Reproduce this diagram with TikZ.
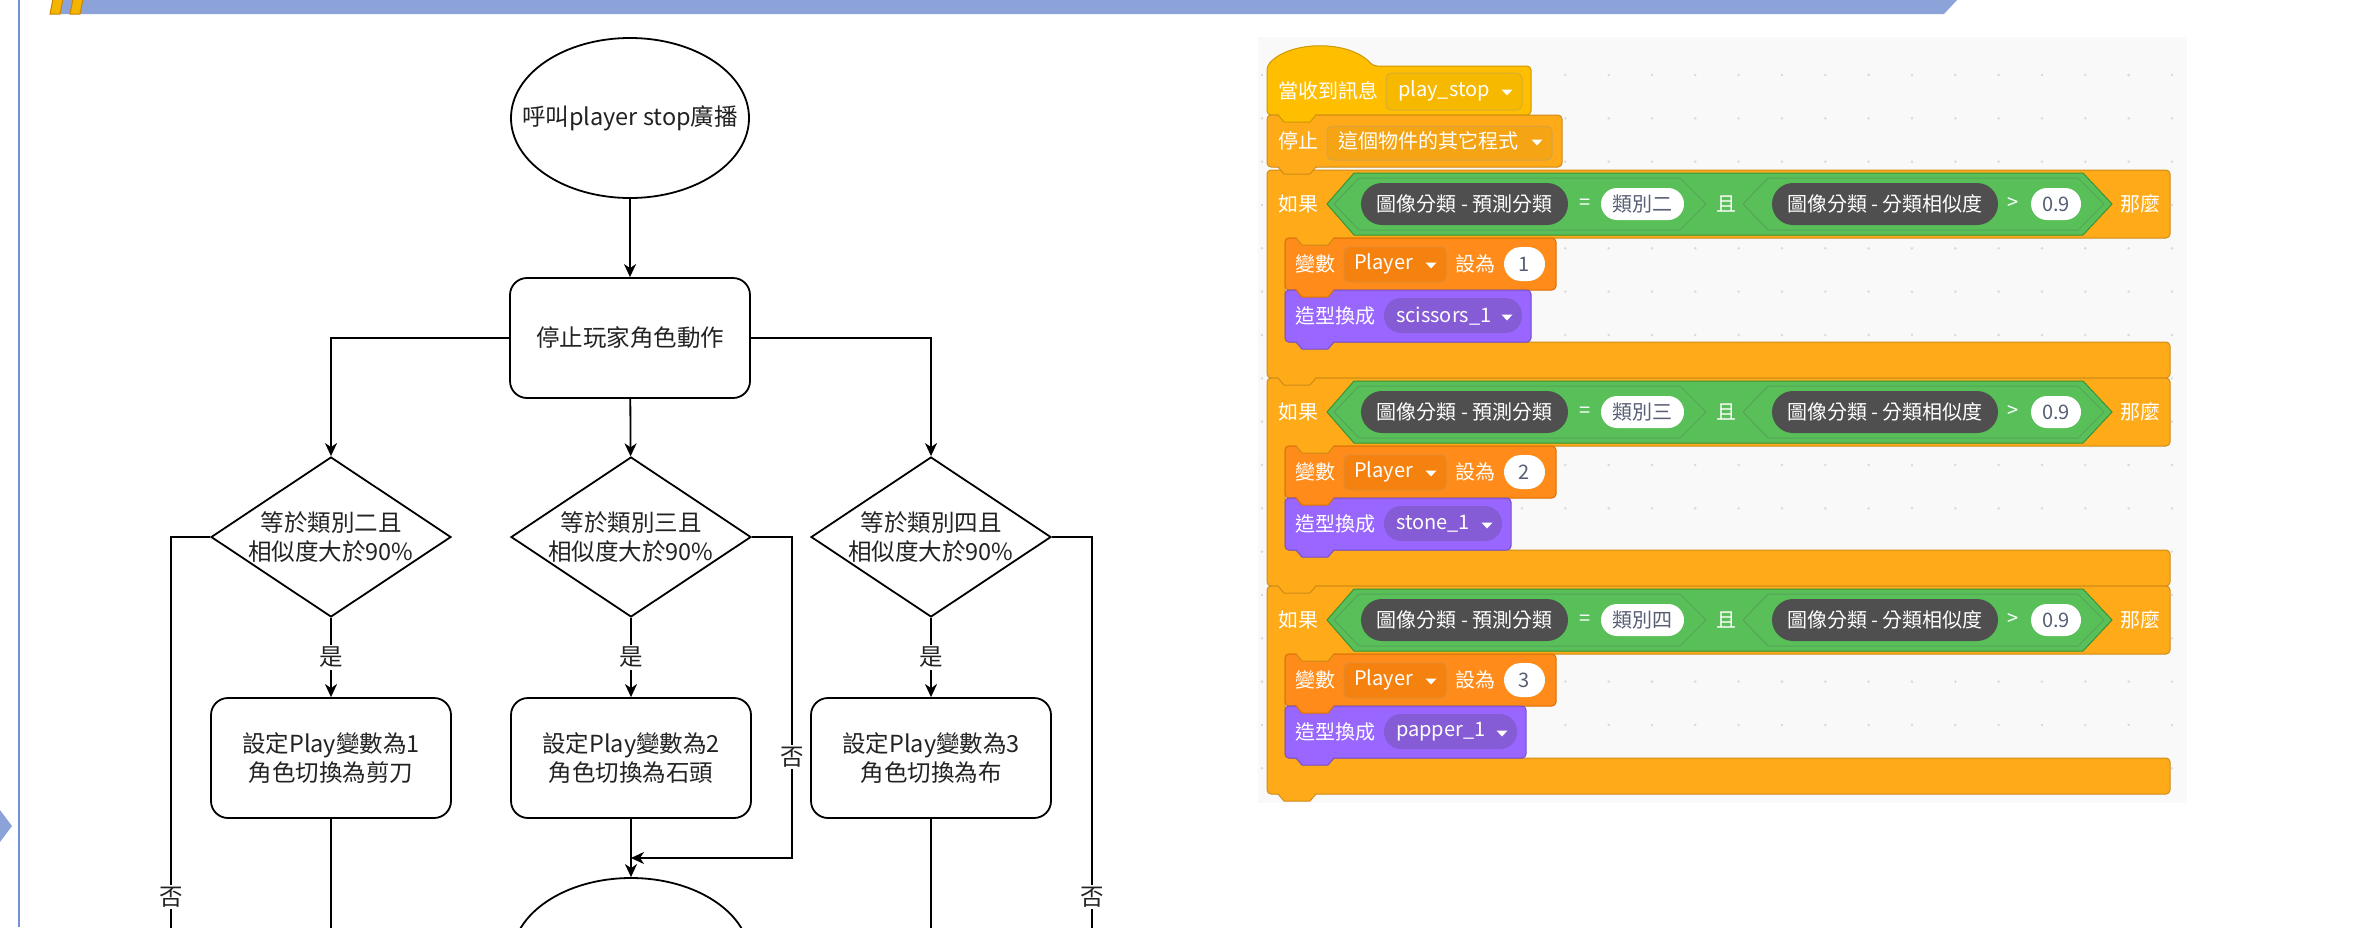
\documentclass[tikz,border=0pt]{standalone}
\usepackage{fontspec}
\setmainfont{Noto Sans CJK TC}
\usetikzlibrary{shapes.geometric,arrows.meta}
\definecolor{bannerc}{HTML}{8CA3D9}
\definecolor{quotec}{HTML}{F5B400}
\definecolor{quoteb}{HTML}{C98500}
\definecolor{edgec}{HTML}{7391D2}
\definecolor{fgtext}{HTML}{222222}
\definecolor{sbg}{HTML}{F9F9F9}
\definecolor{dotc}{HTML}{DADADA}
\definecolor{evt}{HTML}{FFBF00}
\definecolor{evtb}{HTML}{CC9900}
\definecolor{evtf}{HTML}{F7B800}
\definecolor{ctl}{HTML}{FFAB19}
\definecolor{ctlb}{HTML}{CF8B17}
\definecolor{ctlf}{HTML}{F5A413}
\definecolor{var}{HTML}{FF8C1A}
\definecolor{varb}{HTML}{DB6E00}
\definecolor{varf}{HTML}{F5820F}
\definecolor{lks}{HTML}{9966FF}
\definecolor{lksb}{HTML}{774DCB}
\definecolor{lksf}{HTML}{855CD6}
\definecolor{opc}{HTML}{59C059}
\definecolor{opb}{HTML}{389438}
\definecolor{extc}{HTML}{4F4F4F}
\definecolor{pilltext}{HTML}{575E75}
\newcommand\sbump[4]{%
  \path[fill=#3] (#1+11,#2-1.5) -- (#1+17,#2+7) -- (#1+43,#2+7) -- (#1+49,#2-1.5) -- cycle;
  \draw[#4, line width=1pt] (#1+11,#2) -- (#1+17,#2+7) -- (#1+43,#2+7) -- (#1+49,#2);}
\newcommand\droptri[2]{\fill[white] (#1-5.5,#2-2.5) -- (#1+5.5,#2-2.5) -- (#1,#2+3.5) -- cycle;}
\begin{document}
\begin{tikzpicture}[x=1pt,y=-1pt,
  fl/.style={line width=1.8pt, draw=black},
  arr/.style={fl, -{Stealth[length=13pt,width=12pt,inset=4pt]}},
  ftxt/.style={font=\fontsize{23.5}{29}\selectfont, text=fgtext, align=center, inner sep=0pt},
  term/.style={ellipse, draw, line width=1.8pt, minimum width=238pt, minimum height=160pt, inner sep=0pt},
  proc/.style={rectangle, rounded corners=17pt, draw, line width=1.8pt, minimum width=240pt, minimum height=120pt, ftxt},
  dec/.style={diamond, draw, line width=1.8pt, minimum width=240pt, minimum height=160pt, inner sep=0pt},
  lbl/.style={fill=white, font=\fontsize{23.5}{28}\selectfont, inner sep=2pt, text=fgtext},
  stxt/.style={font=\fontsize{20}{23}\selectfont, text=white, inner sep=0pt, anchor=west},
  ctxt/.style={font=\fontsize{20}{23}\selectfont, text=white, inner sep=0pt},
  ptxt/.style={font=\fontsize{20}{23}\selectfont, text=pilltext, inner sep=0pt},
  sblk/.style={line width=1pt, rounded corners=4pt}
]
\useasboundingbox (0,0) rectangle (2372,927);
\fill[white] (0,0) rectangle (2372,927);

% page decorations
\fill[bannerc] (60,0) -- (1957,0) -- (1944,14) -- (60,14) -- cycle;
\filldraw[fill=quotec, draw=quoteb, line width=1pt] (50,14) -- (53,-1) -- (63,-1) -- (60,14) -- cycle;
\filldraw[fill=quotec, draw=quoteb, line width=1pt] (70,14) -- (73,-1) -- (83,-1) -- (80,14) -- cycle;
\draw[edgec, line width=2pt] (19,0) -- (19,927);
\fill[bannerc] (0,810) -- (12,826) -- (0,842) -- cycle;

% ---------------- flowchart ----------------
\node[term] (start) at (630,118) {};
\node[ftxt] (startT) at (start.center) {呼叫player stop廣播};
\node[proc] (stop) at (630,338) {停止玩家角色動作};
\node[dec] (d1) at (331,537) {};
\node[ftxt] (d1T) at (d1.center) {等於類別二且\\相似度大於90\%};
\node[dec] (d2) at (631,537) {};
\node[ftxt] (d2T) at (d2.center) {等於類別三且\\相似度大於90\%};
\node[dec] (d3) at (931,537) {};
\node[ftxt] (d3T) at (d3.center) {等於類別四且\\相似度大於90\%};
\node[proc] (b1) at (331,758) {設定Play變數為1\\角色切換為剪刀};
\node[proc] (b2) at (631,758) {設定Play變數為2\\角色切換為石頭};
\node[proc] (b3) at (931,758) {設定Play變數為3\\角色切換為布};
\node[term] (fin) at (631,958) {};

\coordinate (n1end) at (171,940);
\coordinate (n3end) at (1092,940);
\coordinate (b1end) at (331,940);
\coordinate (b3end) at (931,940);
\coordinate (n2turn) at (792,537);
\coordinate (merge) at (631,858);

\draw[arr] (start) -- (stop);
\draw[arr] (stop.west) -| (d1.north);
\draw[arr] (stop) -- (d2);
\draw[arr] (stop.east) -| (d3.north);
\draw[arr] (d1) -- node[lbl] (y1) {是} (b1);
\draw[arr] (d2) -- node[lbl] (y2) {是} (b2);
\draw[arr] (d3) -- node[lbl] (y3) {是} (b3);
\draw[fl] (d1.west) -| (n1end);
\draw[fl] (b1) -- (b1end);
\draw[fl] (b3) -- (b3end);
\draw[fl] (d3.east) -| (n3end);
\draw[arr] (d2.east) -- (n2turn) |- (merge);
\draw[arr] (b2) -- (fin);
\node[lbl] (no1) at (171,897) {否};
\node[lbl] (no2) at (792,757) {否};
\node[lbl] (no3) at (1092,897) {否};

% ---------------- scratch ----------------
\fill[sbg] (1258,37) rectangle (2187,803);
\foreach \i in {0,...,21}{
  \foreach \j in {0,...,16}{
    \fill[dotc] (1262+43.33*\i,75+43.33*\j) circle (1.4);
  }
}

% hat block
\filldraw[fill=evt, draw=evtb, sblk] (1267,115) -- (1267,66) .. controls (1290,40) and (1350,40) .. (1373,66) -- (1531,66) -- (1531,115) -- cycle;
\node[stxt] (hatT) at (1278,91) {當收到訊息};
\filldraw[fill=evtf, draw=evtb!80, line width=1pt, rounded corners=5pt] (1386,73) rectangle (1522,110);
\node[stxt] (hatF) at (1398,91) {play\_stop};
\droptri{1507}{92}

% stop block
\filldraw[fill=ctl, draw=ctlb, sblk] (1267,115) rectangle (1562,167);
\node[stxt] (stopT) at (1278,141) {停止};
\filldraw[fill=ctlf, draw=ctlb!80, line width=1pt, rounded corners=5pt] (1327,126) rectangle (1552,160);
\node[stxt] (stopF) at (1338,141) {這個物件的其它程式};
\droptri{1537}{142}

\foreach \T/\cls/\num/\cost/\rf/\rb/\tri/\n in {170/類別二/1/scissors\_1/1522/1531/1507/a, 378/類別三/2/stone\_1/1502/1511/1487/b, 586/類別四/3/papper\_1/1517/1526/1502/c}{
  % C block
  \filldraw[fill=ctl, draw=ctlb, sblk] (1267,\T) -- (2170,\T) -- (2170,\T+68) -- (1285,\T+68) -- (1285,\T+172) -- (2170,\T+172) -- (2170,\T+208) -- (1267,\T+208) -- cycle;
  \node[stxt] (if\n) at (1278,\T+34) {如果};
  % and-hexagon
  \filldraw[fill=opc, draw=opb, line width=1pt] (1327,\T+34) -- (1354,\T+3) -- (2083,\T+3) -- (2112,\T+34) -- (2083,\T+65) -- (1354,\T+65) -- cycle;
  \filldraw[fill=opc, draw=opb!85, line width=1pt] (1334,\T+34) -- (1359,\T+8) -- (1680,\T+8) -- (1706,\T+34) -- (1680,\T+60) -- (1359,\T+60) -- cycle;
  \filldraw[fill=opc, draw=opb!85, line width=1pt] (1743,\T+34) -- (1768,\T+8) -- (2078,\T+8) -- (2104,\T+34) -- (2078,\T+60) -- (1768,\T+60) -- cycle;
  \fill[extc, rounded corners=21pt] (1361,\T+13) rectangle (1568,\T+55);
  \node[ctxt] (pa\n) at (1464.5,\T+34) {圖像分類 - 預測分類};
  \node[ctxt] (eq\n) at (1585,\T+34) {=};
  \fill[white, rounded corners=16pt] (1601,\T+18) rectangle (1684,\T+50);
  \node[ptxt] (cl\n) at (1642.5,\T+34) {\cls};
  \node[ctxt] (and\n) at (1726,\T+34) {且};
  \fill[extc, rounded corners=21pt] (1772,\T+13) rectangle (1998,\T+55);
  \node[ctxt] (pb\n) at (1885,\T+34) {圖像分類 - 分類相似度};
  \node[ctxt] (gt\n) at (2013,\T+34) {>};
  \fill[white, rounded corners=16pt] (2031,\T+18) rectangle (2081,\T+50);
  \node[ptxt] (th\n) at (2056,\T+34) {0.9};
  \node[ctxt] (then\n) at (2140,\T+34) {那麼};
  % set variable
  \filldraw[fill=var, draw=varb, sblk] (1285,\T+68) rectangle (1556,\T+120);
  \node[stxt] (vs\n) at (1295,\T+94) {變數};
  \filldraw[fill=varf, draw=varb!80, line width=1pt, rounded corners=5pt] (1344,\T+77) rectangle (1446,\T+112);
  \node[stxt] (vf\n) at (1354,\T+94) {Player};
  \droptri{1431}{\T+95}
  \node[stxt] (vt\n) at (1455,\T+94) {設為};
  \fill[white, rounded corners=17pt] (1504,\T+77) rectangle (1545,\T+111);
  \node[ptxt] (vn\n) at (1524.5,\T+94) {\num};
  % switch costume
  \filldraw[fill=lks, draw=lksb, sblk] (1285,\T+120) rectangle (\rb,\T+172);
  \node[stxt] (cs\n) at (1295,\T+146) {造型換成};
  \fill[lksf, rounded corners=17pt] (1384,\T+128) rectangle (\rf,\T+163);
  \node[stxt] (cf\n) at (1396,\T+146) {\cost};
  \droptri{\tri}{\T+147}
}
% connection bumps
\sbump{1267}{115}{evt}{evtb}
\sbump{1267}{167}{ctl}{ctlb}
\foreach \T in {170,378,586}{
  \sbump{1285}{\T+68}{ctl}{ctlb}
  \sbump{1285}{\T+120}{var}{varb}
  \sbump{1285}{\T+172}{lks}{lksb}
  \sbump{1267}{\T+208}{ctl}{ctlb}
}
\end{tikzpicture}
\end{document}
